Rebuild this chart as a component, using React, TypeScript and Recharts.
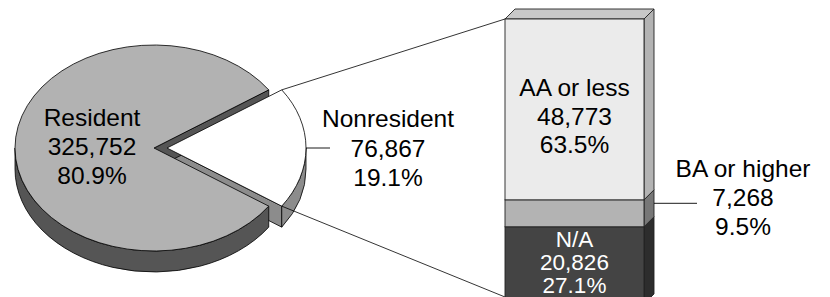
import React from 'react';
import { PieChart, Pie, BarChart, Bar, XAxis, YAxis } from 'recharts';

// ---------- data ----------
const pieNames = ['Resident', 'Nonresident'];
const pieValues = [325752, 76867];
const pieValueLabels = ['325,752', '76,867'];
const piePercentLabels = ['80.9%', '19.1%'];

const barNames = ['N/A', 'BA or higher', 'AA or less'];
const barKeys = ['na', 'ba', 'aa'];
const barValues = [20826, 7268, 48773];
const barValueLabels = ['20,826', '7,268', '48,773'];
const barPercentLabels = ['27.1%', '9.5%', '63.5%'];

// ---------- layout / style ----------
const W = 830;
const H = 297;
const FONT = '"Liberation Sans", Arial, sans-serif';
const FS = 24.5;

const PIE_CX = 154;
const PIE_CY = 148;
const PIE_R = 139;
const TILT = 0.741;
const PIE_DEPTH = 21;
const EXPLODE = 13;
const pieTopColors = ['#b2b2b2', '#ffffff'];
const pieSideColors = ['#555555', '#8c8c8c'];

const BAR_LEFT = 505;
const BAR_WIDTH = 139;
const BAR_TOP = 19;
const BAR_BOTTOM = 304;
const BAR_CHART_H = 320;
const BAR_DEPTH = 10;
const barFrontColors = ['#444444', '#b3b3b3', '#ebebeb'];
const barSideColors = ['#2d2d2d', '#777777', '#b3b3b3'];
const barTopColor = '#c8c8c8';
const barTextColors = ['#ffffff', '#000000', '#000000'];

const pieData = pieNames.map((name, i) => ({ name, value: pieValues[i] }));
const barRow: Record<string, any> = { name: 'Nonresident' };
barKeys.forEach((k, i) => {
  barRow[k] = barValues[i];
});
const barData = [barRow];

const pieTotal = pieValues.reduce((a, b) => a + b, 0);
const halfOther = (180 * pieValues[1]) / pieTotal;
const PIE_START = halfOther;
const PIE_END = halfOther + 360;

const rad = (a: number) => (a * Math.PI) / 180;

function ept(cx: number, cy: number, r: number, a: number): [number, number] {
  return [cx + r * Math.cos(rad(a)), cy - r * TILT * Math.sin(rad(a))];
}

function sliceCenter(p: any): [number, number] {
  const mid = (p.startAngle + p.endAngle) / 2;
  const off = p.index === 1 ? EXPLODE : 0;
  return [p.cx + off * Math.cos(rad(mid)), p.cy - off * TILT * Math.sin(rad(mid))];
}

const STROKE = '#000';
const SW = 0.8;

function renderSides(p: any) {
  const [cx, cy] = sliceCenter(p);
  const r = p.outerRadius;
  const a1 = p.startAngle;
  const a2 = p.endAngle;
  const D = PIE_DEPTH;
  const color = pieSideColors[p.index];
  const parts: React.ReactNode[] = [];
  const wall = (a: number, key: string) => {
    const [x, y] = ept(cx, cy, r, a);
    parts.push(
      <path
        key={key}
        d={`M${cx},${cy} L${x},${y} L${x},${y + D} L${cx},${cy + D} Z`}
        fill={color}
        stroke={STROKE}
        strokeWidth={SW}
        strokeLinejoin="round"
      />
    );
  };
  if (Math.cos(rad(a1)) > 0) wall(a1, 'w1');
  if (Math.cos(rad(a2)) < 0) wall(a2, 'w2');
  for (let k = -1; k <= 1; k++) {
    const lo = Math.max(a1, 180 + 360 * k);
    const hi = Math.min(a2, 360 + 360 * k);
    if (hi - lo > 0.01) {
      const [x1, y1] = ept(cx, cy, r, lo);
      const [x2, y2] = ept(cx, cy, r, hi);
      const ry = r * TILT;
      parts.push(
        <path
          key={`o${k}`}
          d={`M${x1},${y1} A${r},${ry} 0 0 0 ${x2},${y2} L${x2},${y2 + D} A${r},${ry} 0 0 1 ${x1},${y1 + D} Z`}
          fill={color}
          stroke={STROKE}
          strokeWidth={SW}
          strokeLinejoin="round"
        />
      );
    }
  }
  return <g>{parts}</g>;
}

function makeSideLabel(which: number) {
  return (p: any) => (p.index === which ? renderSides(p) : <g />);
}

function renderTop(p: any) {
  const [cx, cy] = sliceCenter(p);
  const r = p.outerRadius;
  const ry = r * TILT;
  const a1 = p.startAngle;
  const a2 = p.endAngle;
  const mid = (a1 + a2) / 2;
  const [x1, y1] = ept(cx, cy, r, a1);
  const [x2, y2] = ept(cx, cy, r, a2);
  const large = a2 - a1 > 180 ? 1 : 0;
  const i = p.index;
  const lines = [pieNames[i], pieValueLabels[i], piePercentLabels[i]];
  let text: React.ReactNode = null;
  let extra: React.ReactNode = null;
  if (i === 0) {
    const tx = cx + r * 0.446 * Math.cos(rad(mid));
    const mb = cy + 7;
    const LS = 28.7;
    text = (
      <text x={tx} y={mb} textAnchor="middle" fontFamily={FONT} fontSize={FS} fill="#000">
        {lines.map((s, j) => (
          <tspan key={j} x={tx} y={mb + (j - 1) * LS}>
            {s}
          </tspan>
        ))}
      </text>
    );
  } else {
    const [ex, ey] = ept(cx, cy, r, mid);
    const lx2 = ex + 24;
    const tx = lx2 + 58;
    const mb = ey + 8.7;
    const LS = 29.5;
    text = (
      <g>
        <line x1={ex} y1={ey} x2={lx2} y2={ey} stroke="#000" strokeWidth={0.9} />
        <text x={tx} y={mb} textAnchor="middle" fontFamily={FONT} fontSize={FS} fill="#000">
          {lines.map((s, j) => (
            <tspan key={j} x={tx} y={mb + (j - 1) * LS}>
              {s}
            </tspan>
          ))}
        </text>
      </g>
    );
    const lowY = Math.min(BAR_BOTTOM, H);
    extra = (
      <g>
        <line x1={x2} y1={y2} x2={BAR_LEFT} y2={BAR_TOP} stroke="#000" strokeWidth={0.8} />
        <line x1={x1} y1={y1} x2={BAR_LEFT} y2={lowY} stroke="#000" strokeWidth={0.8} />
      </g>
    );
  }
  return (
    <g>
      <path
        d={`M${cx},${cy} L${x1},${y1} A${r},${ry} 0 ${large} 0 ${x2},${y2} Z`}
        fill={pieTopColors[i]}
        stroke={STROKE}
        strokeWidth={SW}
        strokeLinejoin="round"
      />
      {extra}
      {text}
    </g>
  );
}

function makeBarShape(seg: number) {
  return (p: any) => {
    const x = p.x;
    const y = p.y;
    const w = p.width;
    const h = p.height;
    const d = BAR_DEPTH;
    const isTop = seg === barValues.length - 1;
    const lines = [barNames[seg], barValueLabels[seg], barPercentLabels[seg]];
    const cxT = x + w / 2;
    const cyS = y + h / 2;
    let label: React.ReactNode = null;
    if (seg === 2) {
      const mb = cyS + 15.3;
      const LS = 28.7;
      label = (
        <text x={cxT} y={mb} textAnchor="middle" fontFamily={FONT} fontSize={FS} fill={barTextColors[seg]}>
          {lines.map((s, j) => (
            <tspan key={j} x={cxT} y={mb + (j - 1) * LS}>
              {s}
            </tspan>
          ))}
        </text>
      );
    } else if (seg === 0) {
      const mb = cyS + 5;
      const LS = 23;
      label = (
        <text x={cxT} y={mb} textAnchor="middle" fontFamily={FONT} fontSize={22.5} fill={barTextColors[seg]}>
          {lines.map((s, j) => (
            <tspan key={j} x={cxT} y={mb + (j - 1) * LS}>
              {s}
            </tspan>
          ))}
        </text>
      );
    } else {
      const lx1 = x + w + d;
      const ly = cyS - d;
      const lx2 = lx1 + 43;
      const tx = lx2 + 46;
      const mb = cyS - 6.9;
      const LS = 29;
      label = (
        <g>
          <line x1={lx1} y1={ly} x2={lx2} y2={ly} stroke="#000" strokeWidth={0.9} />
          <text x={tx} y={mb} textAnchor="middle" fontFamily={FONT} fontSize={FS} fill={barTextColors[seg]}>
            {lines.map((s, j) => (
              <tspan key={j} x={tx} y={mb + (j - 1) * LS}>
                {s}
              </tspan>
            ))}
          </text>
        </g>
      );
    }
    return (
      <g>
        <path
          d={`M${x + w},${y} L${x + w + d},${y - d} L${x + w + d},${y + h - d} L${x + w},${y + h} Z`}
          fill={barSideColors[seg]}
          stroke="#222"
          strokeWidth={0.9}
          strokeLinejoin="round"
        />
        {isTop && (
          <path
            d={`M${x},${y} L${x + d},${y - d} L${x + w + d},${y - d} L${x + w},${y} Z`}
            fill={barTopColor}
            stroke="#222"
            strokeWidth={0.9}
            strokeLinejoin="round"
          />
        )}
        <rect x={x} y={y} width={w} height={h} fill={barFrontColors[seg]} stroke="#222" strokeWidth={0.9} />
        {label}
      </g>
    );
  };
}

export default function App() {
  return (
    <div
      style={{
        position: 'absolute',
        left: 0,
        top: 0,
        width: W,
        height: H,
        overflow: 'hidden',
        background: '#fff',
      }}
    >
      <div style={{ position: 'absolute', left: 0, top: 0 }}>
        <PieChart width={W} height={H} margin={{ top: 0, right: 0, bottom: 0, left: 0 }}>
          <Pie
            data={pieData}
            dataKey="value"
            nameKey="name"
            cx={PIE_CX}
            cy={PIE_CY}
            innerRadius={0}
            outerRadius={PIE_R}
            startAngle={PIE_START}
            endAngle={PIE_END}
            fill="none"
            stroke="none"
            isAnimationActive={false}
            label={makeSideLabel(1)}
            labelLine={false}
          />
          <Pie
            data={pieData}
            dataKey="value"
            nameKey="name"
            cx={PIE_CX}
            cy={PIE_CY}
            innerRadius={0}
            outerRadius={PIE_R}
            startAngle={PIE_START}
            endAngle={PIE_END}
            fill="none"
            stroke="none"
            isAnimationActive={false}
            label={makeSideLabel(0)}
            labelLine={false}
          />
          <Pie
            data={pieData}
            dataKey="value"
            nameKey="name"
            cx={PIE_CX}
            cy={PIE_CY}
            innerRadius={0}
            outerRadius={PIE_R}
            startAngle={PIE_START}
            endAngle={PIE_END}
            fill="none"
            stroke="none"
            isAnimationActive={false}
            label={renderTop}
            labelLine={false}
          />
        </PieChart>
      </div>
      <div style={{ position: 'absolute', left: 0, top: 0 }}>
        <BarChart
          width={W}
          height={BAR_CHART_H}
          data={barData}
          margin={{ top: BAR_TOP, left: BAR_LEFT, right: W - BAR_LEFT - BAR_WIDTH, bottom: BAR_CHART_H - BAR_BOTTOM }}
          barCategoryGap={0}
          barGap={0}
        >
          <XAxis dataKey="name" type="category" hide />
          <YAxis type="number" domain={[0, 'dataMax']} hide />
          {barKeys.map((k, i) => (
            <Bar key={k} dataKey={k} stackId="s" isAnimationActive={false} shape={makeBarShape(i)} />
          ))}
        </BarChart>
      </div>
    </div>
  );
}
